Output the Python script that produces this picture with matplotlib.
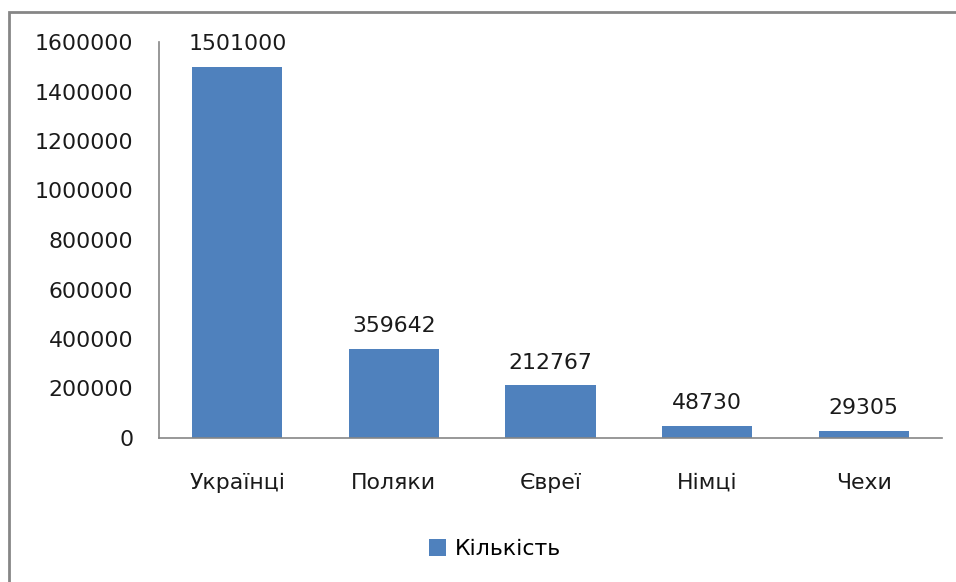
import matplotlib.pyplot as plt
from matplotlib.patches import Rectangle

# data
categories = ['Українці', 'Поляки', 'Євреї', 'Німці', 'Чехи']
values = [1501000, 359642, 212767, 48730, 29305]
series_name = 'Кількість'
yticks = [0, 200000, 400000, 600000, 800000, 1000000, 1200000, 1400000, 1600000]

BAR = '#4F81BD'
GRID = '#868686'
FS = 15.8

plt.rcParams['font.family'] = ['DejaVu Sans']

fig = plt.figure(figsize=(9.56, 5.82), dpi=100)
ax = fig.add_axes([159/956, 144/582, (942-159)/956, (438-42)/582])

x = range(len(categories))
bars = ax.bar(x, values, width=0.575, color=BAR, label=series_name)
ax.set_xlim(-0.5, len(categories) - 0.5)
ax.set_ylim(0, 1600000)
ax.set_yticks(yticks)
ax.set_yticklabels([str(v) for v in yticks], fontsize=FS, color='#1a1a1a')
ax.set_xticks(list(x))
ax.set_xticklabels(categories, fontsize=FS, color='#1a1a1a')
ax.tick_params(axis='both', length=0)
ax.tick_params(axis='y', pad=18.5)
ax.tick_params(axis='x', pad=25)

for s in ['top', 'right']:
    ax.spines[s].set_visible(False)
for s in ['left', 'bottom']:
    ax.spines[s].set_color(GRID)
    ax.spines[s].set_linewidth(1.2)

for b, v in zip(bars, values):
    ax.annotate(str(v), (b.get_x() + b.get_width() / 2, v),
                xytext=(0, 9), textcoords='offset points',
                ha='center', va='bottom', fontsize=FS, color='#1a1a1a')

leg = fig.legend(handles=[bars], labels=[series_name], loc='center',
                 bbox_to_anchor=(495/956, 1 - 549/582), frameon=False,
                 fontsize=FS, handlelength=0.8, handleheight=0.8,
                 handletextpad=0.4)

# outer chart border
fig.patches.append(Rectangle((9/956, -0.1), 1.1, (582-12)/582 + 0.1,
                             transform=fig.transFigure, fill=False,
                             edgecolor=GRID, linewidth=2))

fig.savefig('out.png', dpi=100, facecolor='white')
